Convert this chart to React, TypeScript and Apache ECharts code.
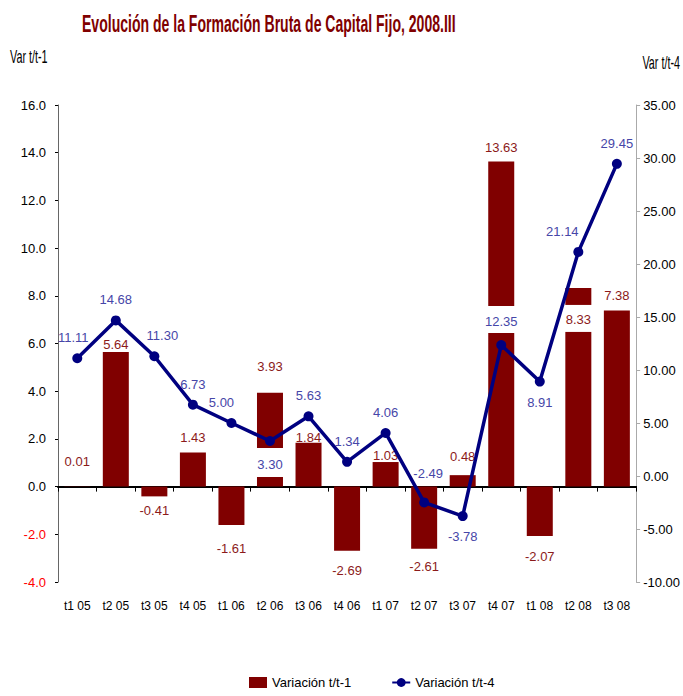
import React, { useEffect, useRef } from "react";
import * as echarts from "echarts";

const categories = ["t1 05", "t2 05", "t3 05", "t4 05", "t1 06", "t2 06", "t3 06", "t4 06", "t1 07", "t2 07", "t3 07", "t4 07", "t1 08", "t2 08", "t3 08"];
const varT1 = [0.01, 5.64, -0.41, 1.43, -1.61, 3.93, 1.84, -2.69, 1.03, -2.61, 0.48, 13.63, -2.07, 8.33, 7.38];
const varT4 = [11.11, 14.68, 11.3, 6.73, 5.0, 3.3, 5.63, 1.34, 4.06, -2.49, -3.78, 12.35, 8.91, 21.14, 29.45];
const leftTicks = { min: -4, max: 16, interval: 2 };
const rightTicks = { min: -10, max: 35, interval: 5 };

const FONT = "'Liberation Sans', Arial, sans-serif";
const BAR = "#800000";
const LINE = "#000080";
const BAR_LBL = "#8b1a1a";
const LINE_LBL = "#4646a8";
const LBL_SIZE = 13;

// label tweaks (style only)
const barLabelDist: Record<number, number> = { 0: 18, 1: 1, 2: 8, 3: 8, 4: 17, 5: 20, 6: -1, 7: 13, 8: 0, 9: 11, 10: 12, 11: 8, 12: 14, 14: 9 };
const lineLabelTweak: Record<number, any> = {
  0: { offset: [-4, 0] },
  2: { offset: [8, 0] },
  4: { offset: [-10, 0] },
  5: { position: "bottom", distance: 2, backgroundColor: "#fff", padding: [10, 3, 6, 3] },
  9: { offset: [4, 0], distance: 17 },
  10: { position: "bottom" },
  11: { distance: 7, backgroundColor: "#fff", padding: [9, 3, 5, 3] },
  12: { position: "bottom" },
  13: { offset: [-16, 0] },
};

export default function App() {
  const ref = useRef<HTMLDivElement>(null);
  useEffect(() => {
    if (!ref.current) return;
    const chart = echarts.init(ref.current, null, { renderer: "svg" });
    const barData = varT1.map((v, i) => {
      if (i === 13) {
        return {
          value: v,
          label: { position: "insideTop", distance: 17, backgroundColor: "#fff", padding: [8, 3, 6, 3] },
        };
      }
      return {
        value: v,
        label: { position: v < 0 ? "bottom" : "top", distance: barLabelDist[i] ?? 5 },
      };
    });
    const lineData = varT4.map((v, i) => ({ value: v, label: { ...(lineLabelTweak[i] || {}) } }));
    chart.setOption({
      animation: false,
      backgroundColor: "#fff",
      textStyle: { fontFamily: FONT },
      graphic: [
        {
          type: "text",
          x: 82,
          y: 23,
          scaleX: 0.585,
          style: {
            text: "Evolución de la Formación Bruta de Capital Fijo, 2008.III",
            fontFamily: FONT,
            fontSize: 24,
            fontWeight: "bold",
            fill: "#800000",
            align: "left",
            verticalAlign: "middle",
          },
        },
        {
          type: "text",
          x: 10,
          y: 57,
          scaleX: 0.6,
          style: { text: "Var t/t-1", fontFamily: FONT, fontSize: 18, fill: "#000", align: "left", verticalAlign: "middle" },
        },
        {
          type: "text",
          x: 680,
          y: 63,
          scaleX: 0.6,
          style: { text: "Var t/t-4", fontFamily: FONT, fontSize: 18, fill: "#000", align: "right", verticalAlign: "middle" },
        },
      ],
      legend: {
        bottom: 2,
        left: 244,
        itemGap: 40,
        itemWidth: 18,
        itemHeight: 11,
        textStyle: { fontFamily: FONT, fontSize: 13, color: "#000" },
        data: [
          { name: "Variación t/t-1", icon: "rect" },
          { name: "Variación t/t-4" },
        ],
      },
      grid: { left: 58, right: 45, top: 105, bottom: 114 },
      xAxis: [
        {
          type: "category",
          data: categories,
          position: "bottom",
          axisLine: { show: false, onZero: false },
          axisTick: { show: false },
          axisLabel: { fontFamily: FONT, fontSize: 12, color: "#000", margin: 18, interval: 0 },
        },
        {
          type: "category",
          data: categories,
          position: "bottom",
          axisLine: { show: true, onZero: true, onZeroAxisIndex: 0, lineStyle: { color: "#000", width: 2 } },
          axisTick: { show: true, length: 5, lineStyle: { color: "#000" } },
          axisLabel: { show: false },
        },
      ],
      yAxis: [
        {
          type: "value",
          ...leftTicks,
          position: "left",
          splitLine: { show: false },
          axisLine: { show: true, lineStyle: { color: "#666" } },
          axisTick: { show: true, length: 3, lineStyle: { color: "#000" } },
          axisLabel: {
            fontFamily: FONT,
            fontSize: 13,
            margin: 12,
            formatter: (v: number) => v.toFixed(1),
            color: (v: any) => (Number(v) < 0 ? "#ff0000" : "#000"),
          },
        },
        {
          type: "value",
          ...rightTicks,
          position: "right",
          splitLine: { show: false },
          axisLine: { show: true, lineStyle: { color: "#aaa" } },
          axisTick: { show: true, length: 4, lineStyle: { color: "#aaa" } },
          axisLabel: {
            fontFamily: FONT,
            fontSize: 13,
            margin: 7,
            color: "#000",
            formatter: (v: number) => v.toFixed(2),
          },
        },
      ],
      series: [
        {
          name: "Variación t/t-1",
          type: "bar",
          xAxisIndex: 0,
          yAxisIndex: 0,
          barWidth: 26,
          itemStyle: { color: BAR },
          data: barData,
          label: {
            show: true,
            fontFamily: FONT,
            fontSize: LBL_SIZE,
            color: BAR_LBL,
            formatter: (p: any) => Number(p.value).toFixed(2),
          },
          z: 2,
        },
        {
          name: "Variación t/t-4",
          type: "line",
          xAxisIndex: 0,
          yAxisIndex: 1,
          data: lineData,
          symbol: "circle",
          symbolSize: 10,
          lineStyle: { color: LINE, width: 3.5 },
          itemStyle: { color: LINE },
          label: {
            show: true,
            position: "top",
            distance: 9,
            fontFamily: FONT,
            fontSize: LBL_SIZE,
            color: LINE_LBL,
            formatter: (p: any) => Number(p.value).toFixed(2),
          },
          z: 3,
        },
      ],
    });
    return () => chart.dispose();
  }, []);
  return <div ref={ref} style={{ width: 683, height: 696, position: "absolute", left: 0, top: 0 }} />;
}
